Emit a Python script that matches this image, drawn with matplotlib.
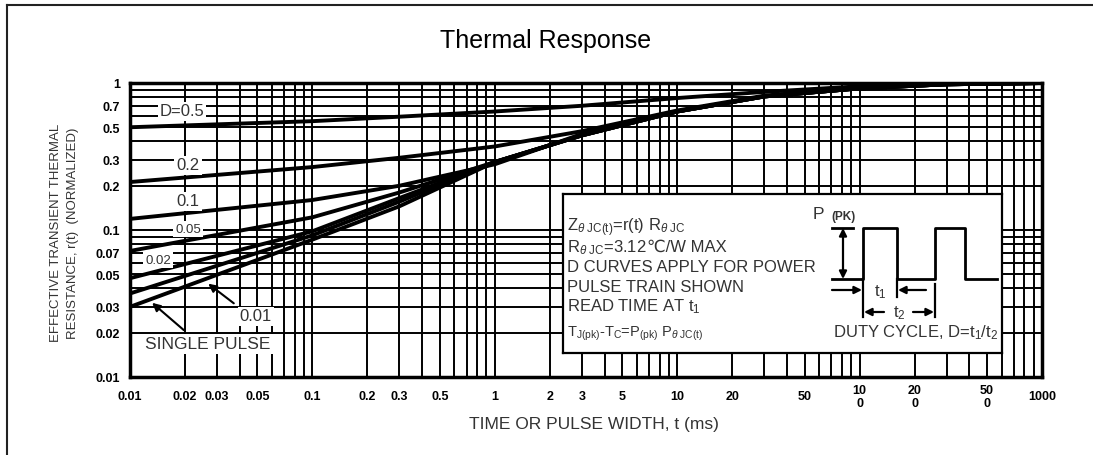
import matplotlib
matplotlib.use("Agg")
import matplotlib.pyplot as plt
from matplotlib.lines import Line2D
from matplotlib.ticker import FixedLocator, FixedFormatter, LogLocator, NullFormatter

plt.rcParams['font.family'] = ['Liberation Sans', 'DejaVu Sans']
plt.rcParams['mathtext.fontset'] = 'custom'
plt.rcParams['mathtext.rm'] = 'Liberation Sans'
plt.rcParams['mathtext.it'] = 'Liberation Sans:italic'

W, H = 1093, 456

# curve data (time in ms, normalized r(t))
t_ms = [0.01, 0.1, 0.3, 1, 3, 10, 30, 100, 300, 1000]
r_d05 = [0.50, 0.55, 0.59, 0.64, 0.70, 0.79, 0.87, 0.95, 0.99, 1.0]
r_d02 = [0.212, 0.268, 0.31, 0.37, 0.47, 0.65, 0.82, 0.93, 0.98, 1.0]
r_d01 = [0.119, 0.16, 0.20, 0.28, 0.45, 0.64, 0.81, 0.92, 0.98, 1.0]
r_d005 = [0.072, 0.122, 0.18, 0.29, 0.44, 0.64, 0.81, 0.92, 0.98, 1.0]
r_d002 = [0.047, 0.098, 0.165, 0.29, 0.44, 0.64, 0.81, 0.92, 0.98, 1.0]
r_d001 = [0.037, 0.092, 0.156, 0.29, 0.44, 0.64, 0.81, 0.92, 0.98, 1.0]
r_single = [0.030, 0.086, 0.145, 0.29, 0.44, 0.64, 0.81, 0.92, 0.98, 1.0]
curves = [r_d05, r_d02, r_d01, r_d005, r_d002, r_d001, r_single]

xtick_vals = [0.01, 0.02, 0.03, 0.05, 0.1, 0.2, 0.3, 0.5, 1, 2, 3, 5, 10, 20,
              50, 100, 200, 500, 1000]
xtick_labels = ['0.01', '0.02', '0.03', '0.05', '0.1', '0.2', '0.3', '0.5', '1',
                '2', '3', '5', '10', '20', '50', '10\n0', '20\n0', '50\n0', '1000']
ytick_vals = [0.01, 0.02, 0.03, 0.05, 0.07, 0.1, 0.2, 0.3, 0.5, 0.7, 1]
ytick_labels = ['0.01', '0.02', '0.03', '0.05', '0.07', '0.1', '0.2', '0.3',
                '0.5', '0.7', '1']


def px(x, y):
    # pixel position in the picture -> data coords (used for labels only)
    return 10 ** ((x - 130) / 182.4 - 2), 10 ** (-(y - 84) / 147)


fig = plt.figure(figsize=(W / 100, H / 100), dpi=100)
ax = fig.add_axes([130 / W, 1 - 378 / H, (1042 - 130) / W, (378 - 84) / H])
ax.set_xscale('log')
ax.set_yscale('log')
ax.set_xlim(0.01, 1000)
ax.set_ylim(0.01, 1)

for r in curves:
    ax.plot(t_ms, r, color='black', lw=2.8, solid_capstyle='butt', zorder=3)

ax.xaxis.set_major_locator(FixedLocator(xtick_vals))
ax.xaxis.set_major_formatter(FixedFormatter(xtick_labels))
ax.xaxis.set_minor_locator(LogLocator(base=10, subs=range(1, 10)))
ax.xaxis.set_minor_formatter(NullFormatter())
ax.yaxis.set_major_locator(FixedLocator(ytick_vals))
ax.yaxis.set_major_formatter(FixedFormatter(ytick_labels))
ax.yaxis.set_minor_locator(LogLocator(base=10, subs=range(1, 10)))
ax.yaxis.set_minor_formatter(NullFormatter())
ax.grid(True, which='both', color='black', lw=1.4)
ax.tick_params(which='both', length=0)
ax.tick_params(axis='y', pad=7, labelsize=9)
ax.tick_params(axis='x', pad=14, labelsize=9)
for lbl in ax.get_xticklabels():
    lbl.set_va('center')
    lbl.set_fontweight('bold')
    lbl.set_linespacing(1.1)
for lbl in ax.get_yticklabels():
    lbl.set_fontweight('bold')
for s in ax.spines.values():
    s.set_linewidth(2.5)

box = dict(facecolor='white', edgecolor='none', pad=1.5)
lab_col = '#333333'
ax.text(*px(182, 112), 'D=0.5', fontsize=12, ha='center', va='center', color=lab_col, bbox=box, zorder=4)
ax.text(*px(188, 166), '0.2', fontsize=12, ha='center', va='center', color=lab_col, bbox=box, zorder=4)
ax.text(*px(188, 202), '0.1', fontsize=12, ha='center', va='center', color=lab_col, bbox=box, zorder=4)
ax.text(*px(188, 230), '0.05', fontsize=9.5, ha='center', va='center', color=lab_col, bbox=box, zorder=4)
ax.text(*px(158, 261), '0.02', fontsize=9.5, ha='center', va='center', color=lab_col, bbox=box, zorder=4)
ax.text(*px(256, 317), '0.01', fontsize=12, ha='center', va='center', color=lab_col, bbox=box, zorder=4)
ax.text(*px(208, 345), 'SINGLE PULSE', fontsize=12.5, ha='center', va='center', color=lab_col, bbox=box, zorder=4)
ax.annotate('', xy=px(206, 283), xytext=px(236, 306),
            arrowprops=dict(arrowstyle='-|>', color='black', lw=1.5, mutation_scale=12), zorder=5)
ax.annotate('', xy=px(150, 302), xytext=px(186, 333),
            arrowprops=dict(arrowstyle='-|>', color='black', lw=1.5, mutation_scale=12), zorder=5)

# inset note box, drawn in picture pixel coords
ax2 = fig.add_axes([563 / W, 1 - 354 / H, (1002 - 563) / W, (354 - 195) / H])
ax2.set_xlim(563, 1002)
ax2.set_ylim(354, 195)
ax2.set_xticks([])
ax2.set_yticks([])
for s in ax2.spines.values():
    s.set_linewidth(1.6)

txt_col = '#333333'
notes = [r'Z$_{\theta\ \mathrm{JC(t)}}$=r(t) R$_{\theta\ \mathrm{JC}}$',
         r'R$_{\theta\ \mathrm{JC}}$=3.12',
         'D CURVES APPLY FOR POWER',
         'PULSE TRAIN SHOWN',
         r'READ TIME AT t$_1$']
note_txt = []
for i, s in enumerate(notes):
    note_txt.append(ax2.text(567, 228 + i * 19.7, s, fontsize=12, color=txt_col,
                             va='center', ha='left'))
# plain text piece so the ℃ sign can fall back to DejaVu Sans
fig.canvas.draw()
bb = note_txt[1].get_window_extent()
x_end = ax2.transData.inverted().transform((bb.x1, bb.y0))[0]
ax2.text(x_end, 228 + 19.7 - 0.5, '℃/W MAX', fontsize=12, color=txt_col, va='center', ha='left')
ax2.text(567, 334, r'T$_{\mathrm{J(pk)}}$-T$_{\mathrm{C}}$=P$_{\mathrm{(pk)}}$ P$_{\theta\ \mathrm{JC(t)}}$',
         fontsize=10.5, color=txt_col, va='center', ha='left')

ax2.plot([832, 863, 863, 897, 897, 935, 935, 965, 965, 997],
         [280, 280, 229, 229, 280, 280, 229, 229, 280, 280], color='black', lw=2)
ax2.plot([832, 853], [229, 229], color='black', lw=2)
ax2.plot([863, 863], [280, 318], color='black', lw=1.6)
ax2.plot([897, 897], [280, 298], color='black', lw=1.6)
ax2.plot([935, 935], [285, 318], color='black', lw=1.6)
arr = dict(arrowstyle='-|>', color='black', lw=1.6, mutation_scale=11, shrinkA=0, shrinkB=0)
ax2.annotate('', xy=(843, 229), xytext=(843, 280),
             arrowprops=dict(arrowstyle='<|-|>', color='black', lw=1.6, mutation_scale=11, shrinkA=0, shrinkB=0))
ax2.annotate('', xy=(862, 291), xytext=(832, 291), arrowprops=arr)
ax2.annotate('', xy=(898, 291), xytext=(926, 291), arrowprops=arr)
ax2.annotate('', xy=(864, 313), xytext=(884, 313), arrowprops=arr)
ax2.annotate('', xy=(934, 313), xytext=(913, 313), arrowprops=arr)
ax2.text(880, 292, r't$_1$', fontsize=12, color=txt_col, ha='center', va='center')
ax2.text(899, 313, r't$_2$', fontsize=12, color=txt_col, ha='center', va='center')
ax2.text(818, 215, 'P', fontsize=12.5, color=txt_col, ha='center', va='center')
ax2.text(843, 217, '(PK)', fontsize=8.5, color=txt_col, ha='center', va='center', fontweight='bold')
ax2.text(998, 333, r'DUTY CYCLE, D=t$_1$/t$_2$', fontsize=12, color=txt_col, ha='right', va='center')

# titles and axis texts
fig.text(546 / W, 1 - 48 / H, 'Thermal Response', fontsize=18, ha='center', va='baseline')
fig.text(594 / W, 1 - 425 / H, 'TIME OR PULSE WIDTH, t (ms)', fontsize=12.5, ha='center',
         va='center', color='#333333')
fig.text(56 / W, 1 - 233 / H, 'EFFECTIVE TRANSIENT THERMAL', fontsize=9.5, rotation=90,
         ha='center', va='center', color='#333333')
fig.text(73 / W, 1 - 233 / H, 'RESISTANCE, r(t)  (NORMALIZED)', fontsize=9.5, rotation=90,
         ha='center', va='center', color='#333333')

# outer frame of the datasheet
fig.add_artist(Line2D([7 / W, 7 / W], [0, 1 - 6 / H], color='#222222', lw=1.5))
fig.add_artist(Line2D([7 / W, 1], [1 - 6 / H, 1 - 6 / H], color='#222222', lw=1.5))

fig.savefig('out.png', dpi=100)
